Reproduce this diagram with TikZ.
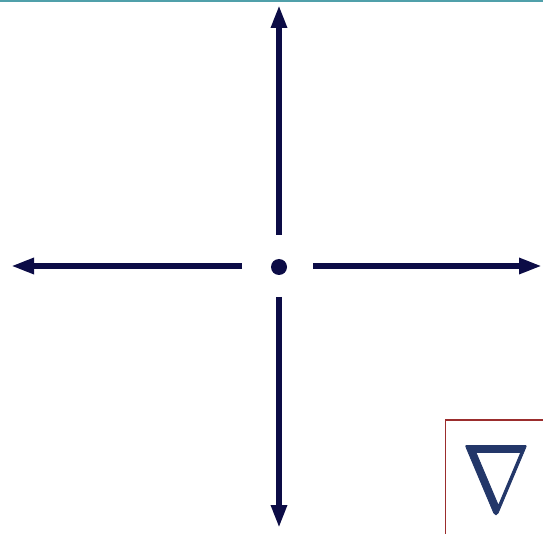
\documentclass[tikz,border=0pt]{standalone}
\usetikzlibrary{arrows.meta}
\definecolor{navy}{RGB}{12,12,70}
\definecolor{nabcol}{RGB}{35,55,105}
\definecolor{teal1}{RGB}{80,160,170}
\definecolor{boxred}{RGB}{155,45,45}
\newcommand{\heavynabla}{\special{pdf:literal 2 Tr 0.1 w}$\nabla$\special{pdf:literal 0 Tr}}
\begin{document}
\begin{tikzpicture}[x=1pt,y=-1pt,
  axis/.style={draw=navy,line width=6pt,-{Triangle[length=23pt,width=15pt]}},
  dotnode/.style={circle,fill=navy,inner sep=0pt,minimum size=16pt}]
\useasboundingbox (0,0) rectangle (543,534);
\clip (0,0) rectangle (543,534);
% top rule
\draw[teal1,line width=2.5pt] (0,0.5) -- (543,0.5);
% centre dot
\node[dotnode] (c) at (279,267) {};
% segment starts and tips
\coordinate (us) at (279,235);
\coordinate (ut) at (279,5);
\coordinate (ds) at (279,297);
\coordinate (dt) at (279,528);
\coordinate (ls) at (242,266);
\coordinate (lt) at (11,266);
\coordinate (rs) at (313,266);
\coordinate (rt) at (542,266);
\draw[axis] (us) -- (ut);
\draw[axis] (ds) -- (dt);
\draw[axis] (ls) -- (lt);
\draw[axis] (rs) -- (rt);
% box with nabla
\coordinate (b1) at (445.5,420);
\coordinate (b2) at (560,560);
\draw[boxred,line width=1.6pt] (b1) rectangle (b2);
\node[inner sep=0pt,text=nabcol] (nab) at (496,478.5) {\resizebox{68pt}{66pt}{\heavynabla}};
\end{tikzpicture}
\end{document}
